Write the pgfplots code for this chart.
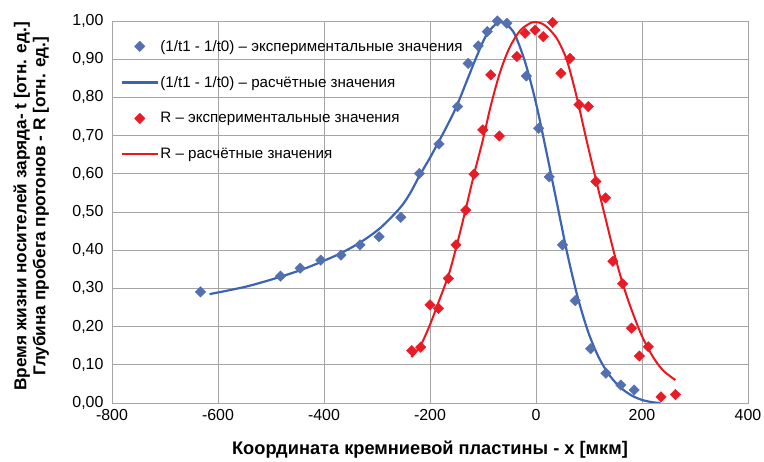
\documentclass[border=0pt]{standalone}
\usepackage{pgfplots}
\pgfplotsset{compat=1.18}
\usepackage{fontspec}
\setmainfont{Liberation Sans}
\definecolor{bluemark}{RGB}{84,112,176}
\definecolor{blueline}{RGB}{60,100,178}
\definecolor{redmark}{RGB}{232,28,38}
\definecolor{redline}{RGB}{236,22,30}
\definecolor{gridc}{RGB}{165,165,165}
\begin{document}
\begin{tikzpicture}
\useasboundingbox (-112bp,-59bp) rectangle (652bp,403bp);
\begin{axis}[
  at={(0,0)}, anchor=south west,
  scale only axis, width=636bp, height=382bp,
  xmin=-800, xmax=400, ymin=0, ymax=1,
  xtick={-800,-600,...,400},
  ytick={0,0.1,...,1.0},
  grid=major,
  major grid style={draw=gridc, line width=0.9bp},
  axis line style={draw=gridc, line width=0.9bp},
  major tick length=0pt,
  /pgf/number format/assume math mode=true,
  yticklabel style={/pgf/number format/.cd, fixed, fixed zerofill, precision=2, use comma, /tikz/.cd, font=\fontsize{16}{16}\selectfont, xshift=-5bp},
  xticklabel style={/pgf/number format/.cd, fixed, /tikz/.cd, font=\fontsize{16}{16}\selectfont, yshift=-3bp},
  every axis x label/.style={at={(axis description cs:0.5,0)}, anchor=center, yshift=-47bp, font=\bfseries\fontsize{18.3}{18.3}\selectfont},
  every axis y label/.style={at={(axis description cs:-0.127,0.515)}, rotate=90, anchor=center, align=center, font=\bfseries\fontsize{17.3}{19}\selectfont},
  xlabel={Координата кремниевой пластины - x [мкм]},
  ylabel={Время жизни носителей заряда- t [отн. ед.]\\Глубина пробега протонов - R [отн. ед.]},
  legend style={at={(axis cs:-800,1.0)}, anchor=north west, draw=none, fill=none, xshift=9bp, yshift=-17bp,
    font=\fontsize{15.2}{15.2}\selectfont, row sep=19.7bp, inner sep=0pt},
  legend cell align=left,
  legend image code/.code={\draw[mark repeat=2,mark phase=2] plot coordinates {(0bp,0bp)(17.5bp,0bp)(35bp,0bp)};},
]
\addplot[only marks, mark=square*, mark size=3.7bp, mark options={rotate=45, draw=bluemark, fill=bluemark}] coordinates {
(-633,0.291) (-482,0.332) (-445,0.353) (-406,0.374) (-368,0.387) (-332,0.414) (-296,0.435) (-255,0.486)
(-220,0.601) (-183,0.678) (-148,0.776) (-128,0.889) (-109,0.935) (-92,0.972) (-73,1.000) (-55,0.994)
(-18,0.856) (5,0.719) (25,0.592) (50,0.414) (74,0.268) (103,0.142) (132,0.078) (160,0.047) (185,0.034)
};
\addlegendentry{(1/t1 - 1/t0) – экспериментальные значения}
\addplot[blueline, line width=2.2bp, smooth, no marks] coordinates {
(-616,0.285) (-546,0.305) (-483,0.330) (-440,0.350) (-406,0.369) (-370,0.391) (-332,0.420) (-294,0.458)
(-257,0.510) (-238,0.548) (-219,0.597) (-200,0.642) (-184,0.683) (-168,0.725) (-150,0.776) (-130,0.845) (-112,0.907)
(-93,0.965) (-74,0.994) (-65,0.998) (-55,0.990) (-40,0.965) (-20,0.890) (0,0.785) (20,0.655) (40,0.520)
(60,0.385) (80,0.270) (100,0.180) (120,0.115) (140,0.070) (160,0.040) (180,0.020) (200,0.008) (220,0.002) (235,0.000)
};
\addlegendentry{(1/t1 - 1/t0) – расчётные значения}
\addplot[only marks, mark=square*, mark size=3.7bp, mark options={rotate=45, draw=redmark, fill=redmark}] coordinates {
(-234.5,0.137) (-217.5,0.146) (-200,0.257) (-184,0.248) (-165.5,0.326) (-151,0.414) (-132.6,0.505) (-117,0.599)
(-100.6,0.715) (-85.5,0.859) (-69,0.699) (-36,0.907) (-20.7,0.968) (-1.9,0.976) (13.8,0.959) (31.5,0.996)
(47,0.863) (64,0.902) (81,0.781) (98.7,0.776) (113,0.580) (131,0.537) (145,0.371) (163.5,0.312)
(180,0.196) (195,0.123) (212,0.147) (236,0.016) (263,0.022)
};
\addlegendentry{R – экспериментальные значения}
\addplot[redline, line width=2bp, smooth, no marks] coordinates {
(-235,0.120) (-218,0.150) (-200,0.205) (-185,0.260) (-165,0.335) (-150,0.410) (-133,0.505) (-117,0.598)
(-100,0.690) (-85,0.780) (-68,0.865) (-50,0.930) (-30,0.975) (-10,0.995) (0,0.997) (10,0.994) (20,0.985)
(39,0.955) (58,0.898) (77,0.800) (95,0.690) (113,0.585) (130,0.490) (146,0.400) (163,0.315) (180,0.245)
(200,0.175) (221,0.120) (240,0.085) (263,0.060)
};
\addlegendentry{R – расчётные значения}
\end{axis}
\end{tikzpicture}
\end{document}
